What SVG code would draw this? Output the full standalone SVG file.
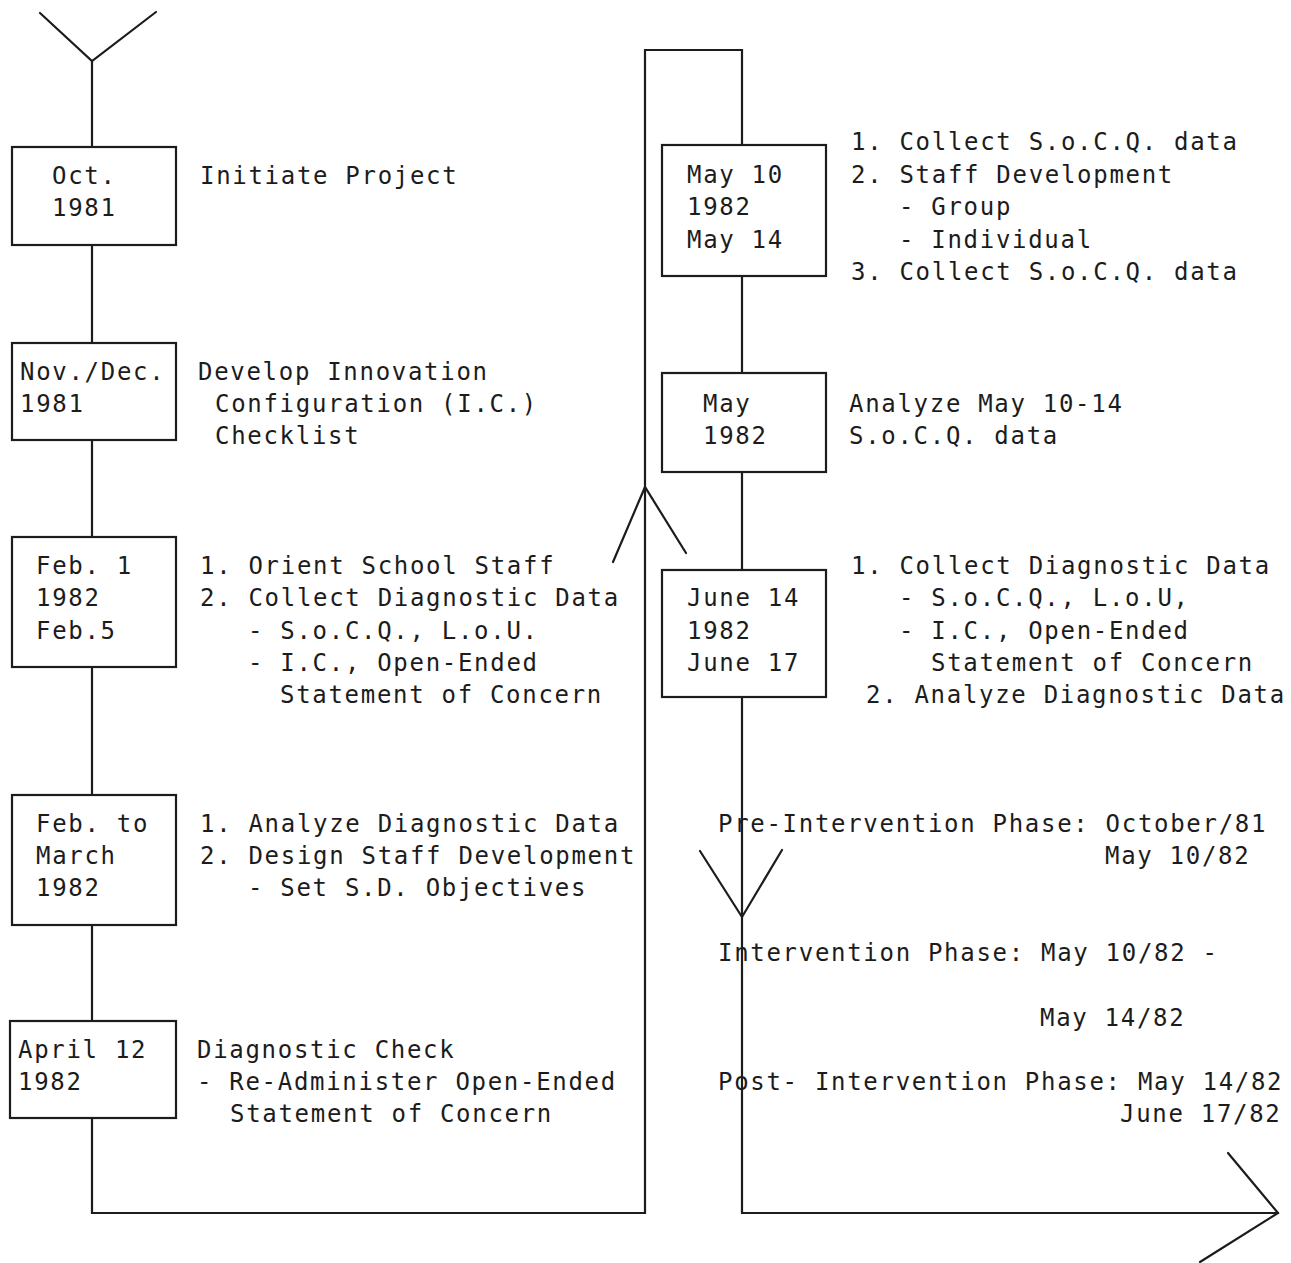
<svg xmlns="http://www.w3.org/2000/svg" width="1291" height="1263" viewBox="0 0 1291 1263">
<style>
  .bg { fill: #ffffff; }
  .box { fill: #ffffff; stroke: #1c1c1c; stroke-width: 2.2; }
  .ln { fill: none; stroke: #1c1c1c; stroke-width: 2.2; stroke-linecap: round; stroke-linejoin: miter; }
  .t { font-family: "DejaVu Sans Mono", "Liberation Mono", monospace; font-size: 24px; letter-spacing: 1.7px; fill: #1c1c1c; }
</style>
<rect class="bg" x="0" y="0" width="1291" height="1263"/>

<g id="connectors">
  <!-- start arrow (top left) -->
  <polyline class="ln" points="40,13 92,61 156,12"/>
  <line class="ln" x1="92" y1="61" x2="92" y2="147"/>
  <line class="ln" x1="92" y1="245" x2="92" y2="343"/>
  <line class="ln" x1="92" y1="440" x2="92" y2="537"/>
  <line class="ln" x1="92" y1="667" x2="92" y2="795"/>
  <line class="ln" x1="92" y1="925" x2="92" y2="1021"/>
  <!-- loop to right column -->
  <polyline class="ln" points="92,1118 92,1213 645,1213 645,50 742,50 742,145"/>
  <polyline class="ln" points="613,562 645,487 686,553"/>
  <line class="ln" x1="742" y1="276" x2="742" y2="373"/>
  <line class="ln" x1="742" y1="472" x2="742" y2="570"/>
  <polyline class="ln" points="742,697 742,1213 1278,1213"/>
  <polyline class="ln" points="700,851 742,917 782,850"/>
  <polyline class="ln" points="1228,1153 1278,1213 1200,1262"/>
</g>

<g id="step-oct-1981">
  <rect class="box" x="12" y="147" width="164" height="98"/>
  <text class="t" x="52" y="184">Oct.</text>
  <text class="t" x="52" y="216">1981</text>
  <text class="t" x="200" y="184">Initiate Project</text>
</g>

<g id="step-nov-dec-1981">
  <rect class="box" x="12" y="343" width="164" height="97"/>
  <text class="t" x="20" y="380">Nov./Dec.</text>
  <text class="t" x="20" y="412">1981</text>
  <text class="t" x="198" y="380">Develop Innovation</text>
  <text class="t" x="215" y="412">Configuration (I.C.)</text>
  <text class="t" x="215" y="444">Checklist</text>
</g>

<g id="step-feb-1982">
  <rect class="box" x="12" y="537" width="164" height="130"/>
  <text class="t" x="36" y="574">Feb. 1</text>
  <text class="t" x="36" y="606">1982</text>
  <text class="t" x="36" y="639">Feb.5</text>
  <text class="t" x="200" y="574">1. Orient School Staff</text>
  <text class="t" x="200" y="606">2. Collect Diagnostic Data</text>
  <text class="t" x="248" y="639">- S.o.C.Q., L.o.U.</text>
  <text class="t" x="248" y="671">- I.C., Open-Ended</text>
  <text class="t" x="280" y="703">Statement of Concern</text>
</g>

<g id="step-feb-march-1982">
  <rect class="box" x="12" y="795" width="164" height="130"/>
  <text class="t" x="36" y="832">Feb. to</text>
  <text class="t" x="36" y="864">March</text>
  <text class="t" x="36" y="896">1982</text>
  <text class="t" x="200" y="832">1. Analyze Diagnostic Data</text>
  <text class="t" x="200" y="864">2. Design Staff Development</text>
  <text class="t" x="248" y="896">- Set S.D. Objectives</text>
</g>

<g id="step-april-1982">
  <rect class="box" x="10" y="1021" width="166" height="97"/>
  <text class="t" x="18" y="1058">April 12</text>
  <text class="t" x="18" y="1090">1982</text>
  <text class="t" x="197" y="1058">Diagnostic Check</text>
  <text class="t" x="197" y="1090">- Re-Administer Open-Ended</text>
  <text class="t" x="230" y="1122">Statement of Concern</text>
</g>

<g id="step-may-10-14-1982">
  <rect class="box" x="662" y="145" width="164" height="131"/>
  <text class="t" x="687" y="183">May 10</text>
  <text class="t" x="687" y="215">1982</text>
  <text class="t" x="687" y="248">May 14</text>
  <text class="t" x="851" y="150">1. Collect S.o.C.Q. data</text>
  <text class="t" x="851" y="183">2. Staff Development</text>
  <text class="t" x="899" y="215">- Group</text>
  <text class="t" x="899" y="248">- Individual</text>
  <text class="t" x="851" y="280">3. Collect S.o.C.Q. data</text>
</g>

<g id="step-may-1982">
  <rect class="box" x="662" y="373" width="164" height="99"/>
  <text class="t" x="703" y="412">May</text>
  <text class="t" x="703" y="444">1982</text>
  <text class="t" x="849" y="412">Analyze May 10-14</text>
  <text class="t" x="849" y="444">S.o.C.Q. data</text>
</g>

<g id="step-june-1982">
  <rect class="box" x="662" y="570" width="164" height="127"/>
  <text class="t" x="687" y="606">June 14</text>
  <text class="t" x="687" y="639">1982</text>
  <text class="t" x="687" y="671">June 17</text>
  <text class="t" x="851" y="574">1. Collect Diagnostic Data</text>
  <text class="t" x="899" y="606">- S.o.C.Q., L.o.U,</text>
  <text class="t" x="899" y="639">- I.C., Open-Ended</text>
  <text class="t" x="931" y="671">Statement of Concern</text>
  <text class="t" x="866" y="703">2. Analyze Diagnostic Data</text>
</g>

<g id="phases">
  <text class="t" x="718" y="832">Pre-Intervention Phase: October/81</text>
  <text class="t" x="1105" y="864">May 10/82</text>
  <text class="t" x="718" y="961">Intervention Phase: May 10/82 -</text>
  <text class="t" x="1040" y="1026">May 14/82</text>
  <text class="t" x="718" y="1090">Post- Intervention Phase: May 14/82</text>
  <text class="t" x="1120" y="1122">June 17/82</text>
</g>
</svg>
